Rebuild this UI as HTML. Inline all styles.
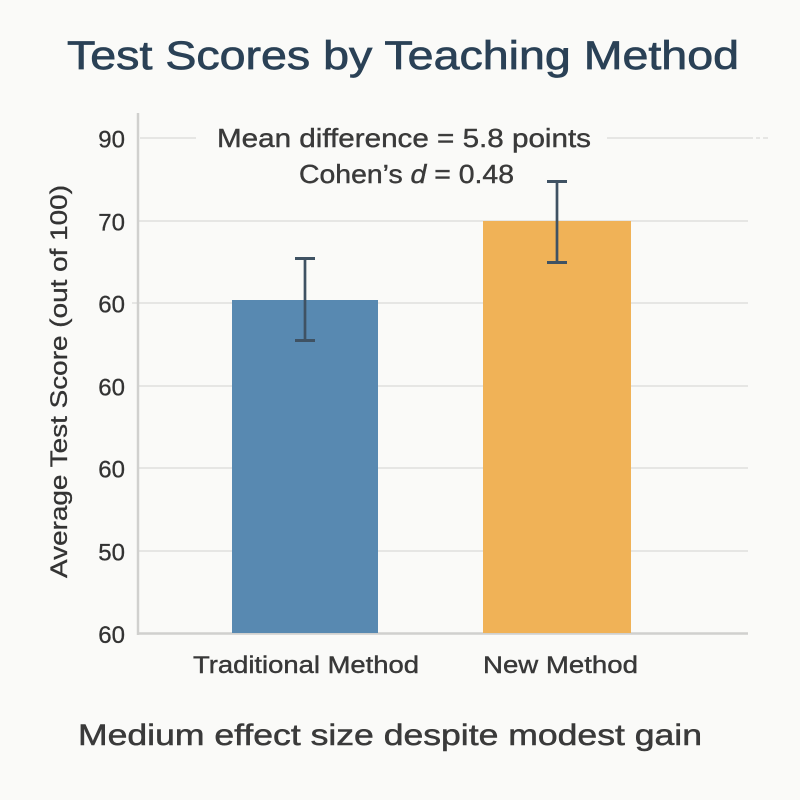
<!DOCTYPE html>
<html>
<head>
<meta charset="utf-8">
<style>
  html, body { margin: 0; padding: 0; background: #fafaf8; }
  svg { display: block; }
</style>
</head>
<body>
<svg width="800" height="800" viewBox="0 0 800 800" xmlns="http://www.w3.org/2000/svg">
  <rect x="0" y="0" width="800" height="800" fill="#fafaf8"/>

  <!-- Title -->
  <text x="67" y="69" font-family="Liberation Sans, sans-serif" font-size="40" fill="#2a4156" stroke="#2a4156" stroke-width="0.7" textLength="672" lengthAdjust="spacingAndGlyphs">Test Scores by Teaching Method</text>

  <!-- Gridlines -->
  <g stroke="#e6e6e4" stroke-width="2">
    <line x1="140" y1="138" x2="196" y2="138"/>
    <line x1="607" y1="138" x2="753" y2="138"/>
    <line x1="756" y1="138" x2="760" y2="138"/>
    <line x1="763" y1="138" x2="768" y2="138"/>
    <line x1="139" y1="221" x2="748" y2="221"/>
    <line x1="132" y1="303" x2="748" y2="303"/>
    <line x1="139" y1="386" x2="748" y2="386"/>
    <line x1="139" y1="468" x2="748" y2="468"/>
    <line x1="139" y1="551" x2="748" y2="551"/>
  </g>

  <!-- Axes -->
  <line x1="138" y1="113" x2="138" y2="635" stroke="#d0d0ce" stroke-width="2.5"/>
  <line x1="137" y1="633.5" x2="748" y2="633.5" stroke="#d0d0ce" stroke-width="2.5"/>

  <!-- Bars -->
  <rect x="232" y="300" width="146" height="333" fill="#5889b1"/>
  <rect x="483" y="221" width="148" height="412" fill="#f0b257"/>

  <!-- Error bars -->
  <g stroke="#3f5263" fill="none">
    <line x1="305" y1="258" x2="305" y2="341" stroke-width="2.7"/>
    <line x1="295" y1="258.5" x2="315" y2="258.5" stroke-width="3"/>
    <line x1="295" y1="340.5" x2="315" y2="340.5" stroke-width="3"/>
    <line x1="557" y1="181" x2="557" y2="263" stroke-width="2.7"/>
    <line x1="547" y1="181.5" x2="567" y2="181.5" stroke-width="3"/>
    <line x1="547" y1="262.5" x2="567" y2="262.5" stroke-width="3"/>
  </g>

  <!-- Y tick labels -->
  <g font-family="Liberation Sans, sans-serif" font-size="24" fill="#333" stroke="#333" stroke-width="0.3" text-anchor="end">
    <text x="125" y="147.5">90</text>
    <text x="125" y="230.5">70</text>
    <text x="125" y="312.5">60</text>
    <text x="125" y="395.5">60</text>
    <text x="125" y="477.5">60</text>
    <text x="125" y="560.5">50</text>
    <text x="125" y="643">60</text>
  </g>

  <!-- Y axis label -->
  <text transform="rotate(-90)" x="-381.5" y="67" text-anchor="middle" font-family="Liberation Sans, sans-serif" font-size="24" fill="#333" stroke="#333" stroke-width="0.3" textLength="393" lengthAdjust="spacingAndGlyphs">Average Test Score (out of 100)</text>

  <!-- Annotation -->
  <g font-family="Liberation Sans, sans-serif" font-size="26" fill="#3a3a3a" stroke="#3a3a3a" stroke-width="0.4">
    <text x="217" y="147" textLength="374" lengthAdjust="spacingAndGlyphs">Mean difference = 5.8 points</text>
    <text x="299" y="183" textLength="215" lengthAdjust="spacingAndGlyphs">Cohen’s <tspan font-style="italic">d</tspan> = 0.48</text>
  </g>

  <!-- X labels -->
  <g font-family="Liberation Sans, sans-serif" font-size="24" fill="#383838" stroke="#383838" stroke-width="0.4">
    <text x="193" y="673" textLength="226" lengthAdjust="spacingAndGlyphs">Traditional Method</text>
    <text x="483" y="673" textLength="155" lengthAdjust="spacingAndGlyphs">New Method</text>
  </g>

  <!-- Subtitle -->
  <text x="78" y="745" font-family="Liberation Sans, sans-serif" font-size="30" fill="#3a3a3a" stroke="#3a3a3a" stroke-width="0.5" textLength="624" lengthAdjust="spacingAndGlyphs">Medium effect size despite modest gain</text>
</svg>
</body>
</html>
